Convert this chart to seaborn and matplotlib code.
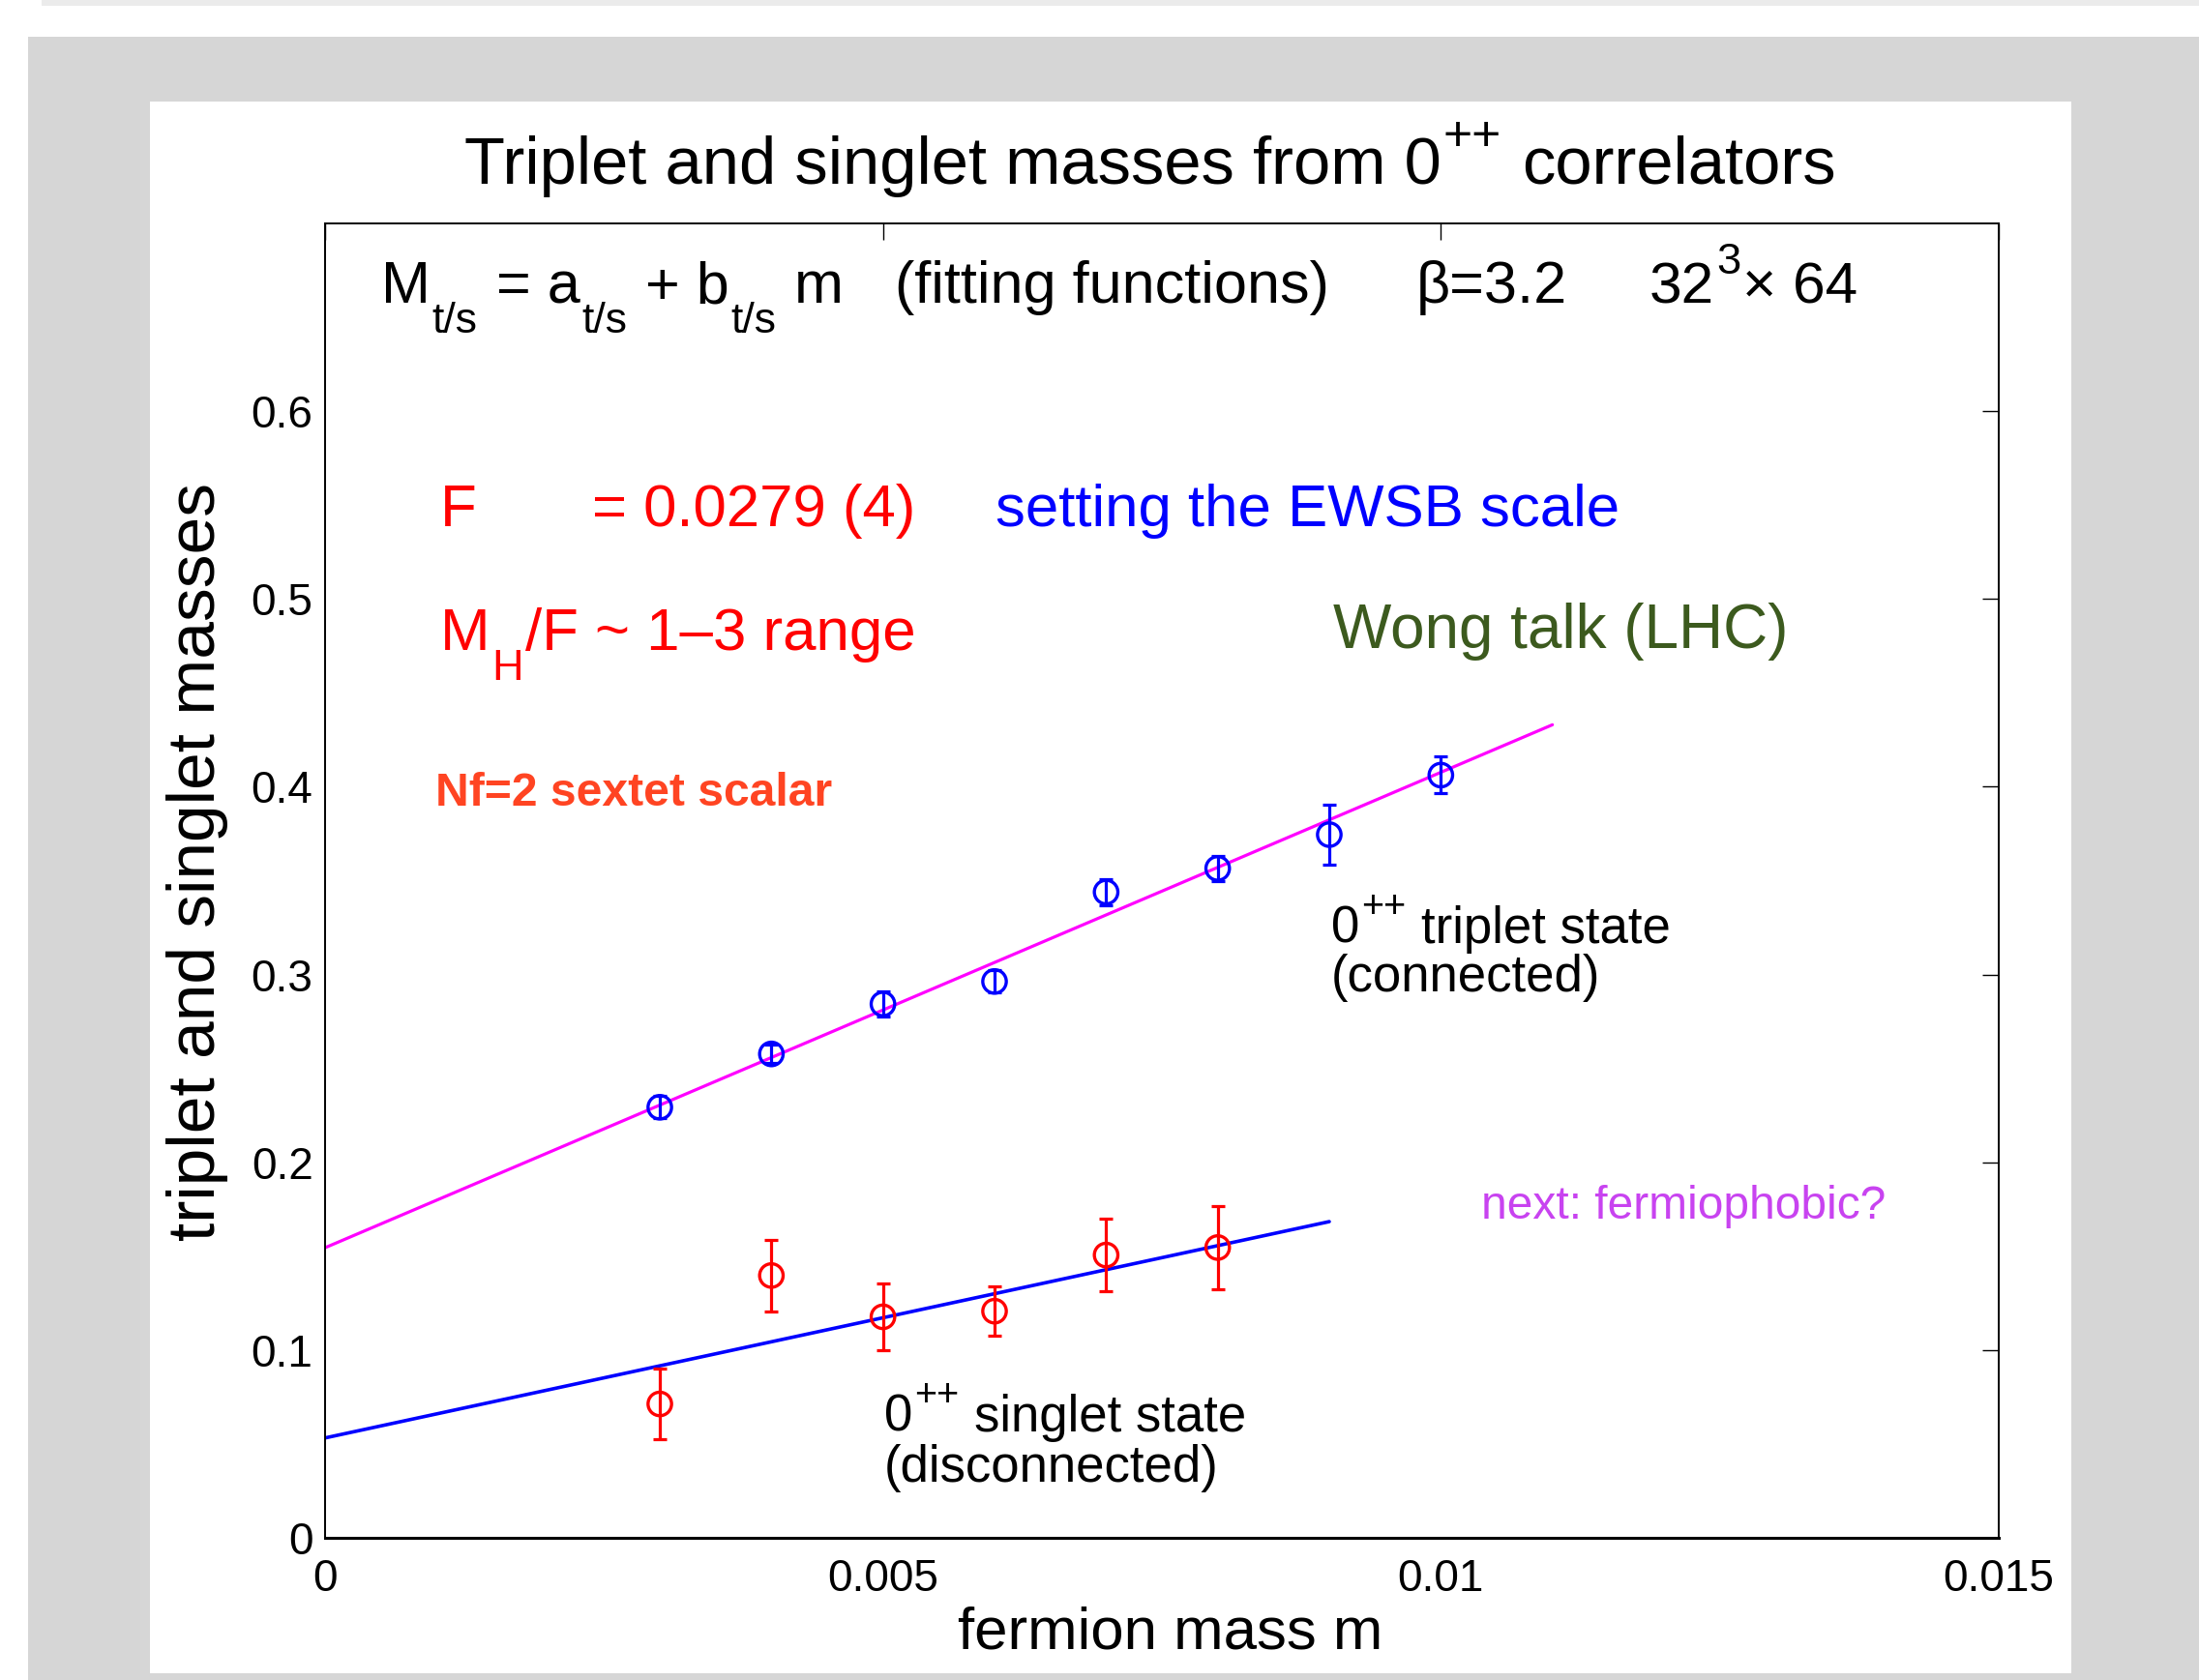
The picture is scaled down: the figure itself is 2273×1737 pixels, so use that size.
import numpy as np
import pandas as pd
import seaborn as sns
import matplotlib
matplotlib.use("Agg")
import matplotlib.pyplot as plt
from matplotlib.patches import Rectangle

# ---------------- data ----------------
m_triplet = [0.003, 0.004, 0.005, 0.006, 0.007, 0.008, 0.009, 0.010]
M_triplet = [0.2293, 0.2577, 0.2843, 0.2963, 0.3439, 0.3565, 0.3745, 0.4062]
err_triplet = [0.006, 0.005, 0.0066, 0.006, 0.007, 0.0066, 0.016, 0.0098]

m_singlet = [0.003, 0.004, 0.005, 0.006, 0.007, 0.008]
M_singlet = [0.0713, 0.1397, 0.1177, 0.1207, 0.1506, 0.1546]
err_singlet = [0.019, 0.019, 0.018, 0.013, 0.0192, 0.022]

fit_triplet_x = [0.0, 0.011]
fit_triplet_y = [0.1545, 0.433]
fit_singlet_x = [0.0, 0.009]
fit_singlet_y = [0.0532, 0.1684]

xticks = [0, 0.005, 0.01, 0.015]
xticklabels = ["0", "0.005", "0.01", "0.015"]
yticks = [0, 0.1, 0.2, 0.3, 0.4, 0.5, 0.6]
yticklabels = ["0", "0.1", "0.2", "0.3", "0.4", "0.5", "0.6"]

# ---------------- style ----------------
sns.set_theme(style="white")
plt.rcParams["font.family"] = ["Liberation Sans", "DejaVu Sans"]

W, H = 2273, 1737
DPI = 100
fig = plt.figure(figsize=(W / DPI, H / DPI), dpi=DPI)
fig.patch.set_facecolor("white")
renderer = fig.canvas.get_renderer()

def frect(x0, y0, x1, y1, color):
    r = Rectangle((x0 / W, 1 - y1 / H), (x1 - x0) / W, (y1 - y0) / H,
                  transform=fig.transFigure, facecolor=color, edgecolor="none",
                  zorder=-10)
    fig.add_artist(r)

frect(43, 0, W, 6, "#ebebeb")
frect(29, 38, W, H, "#d6d6d6")
frect(155, 105, 2141, 1730, "white")

def ftext(x, y, s, **kw):
    kw.setdefault("va", "baseline")
    kw.setdefault("ha", "left")
    return fig.text(x / W, 1 - y / H, s, **kw)

def seq_text(x, y, pieces, size, color, ha="left", weight="normal"):
    """Place text pieces (normal / sub / sup / spaces) in a row, MATLAB style."""
    em = size * DPI / 72.0
    placed = []
    cur = 0.0
    for s, kind in pieces:
        if kind == "sp":
            cur += s * 0.278 * em
            continue
        if kind == "n":
            fs, dy = size, 0.0
        elif kind == "sub":
            fs, dy = size * 0.73, 0.5 * em
        else:
            fs, dy = size * 0.75, -0.5 * em
        t = ftext(0, y + dy, s, fontsize=fs, color=color, fontweight=weight)
        w = t.get_window_extent(renderer).width
        placed.append((t, cur))
        cur += w + 0.03 * em
    x0 = x - cur / 2.0 if ha == "center" else x
    for t, off in placed:
        t.set_x((x0 + off) / W)

ax_l, ax_r, ax_t, ax_b = 336, 2066, 231, 1590
ax = fig.add_axes([ax_l / W, 1 - ax_b / H, (ax_r - ax_l) / W, (ax_b - ax_t) / H])
ax.set_facecolor("white")

# fit lines
sns.lineplot(x=fit_triplet_x, y=fit_triplet_y, ax=ax, color="#ff00ff", lw=2.3,
             zorder=2)
sns.lineplot(x=fit_singlet_x, y=fit_singlet_y, ax=ax, color="#0000ff", lw=2.6,
             zorder=2)

# error bars
ax.errorbar(m_triplet, M_triplet, yerr=err_triplet, fmt="none", ecolor="#0000ff",
            elinewidth=2.3, capsize=5, capthick=2.3, zorder=3)
ax.errorbar(m_singlet, M_singlet, yerr=err_singlet, fmt="none", ecolor="#ff0000",
            elinewidth=2.3, capsize=5, capthick=2.3, zorder=3)

# markers
df_t = pd.DataFrame({"m": m_triplet, "M": M_triplet})
df_s = pd.DataFrame({"m": m_singlet, "M": M_singlet})
sns.scatterplot(data=df_t, x="m", y="M", ax=ax, marker="o", s=17.5 ** 2,
                facecolors="none", edgecolor="#0000ff", linewidth=2.4, zorder=4)
sns.scatterplot(data=df_s, x="m", y="M", ax=ax, marker="o", s=17.5 ** 2,
                facecolors="none", edgecolor="#ff0000", linewidth=2.4, zorder=4)

ax.set_xlim(0, 0.015)
ax.set_ylim(0, 0.7)
ax.set_xticks(xticks)
ax.set_xticklabels(xticklabels)
ax.set_yticks(yticks)
ax.set_yticklabels(yticklabels)
ax.tick_params(direction="in", length=12, width=1.0, top=True, right=True,
               labelsize=33, colors="black")
ax.tick_params(axis="x", pad=15)
ax.tick_params(axis="y", pad=9)
for side in ["left", "right", "top"]:
    ax.spines[side].set_color("black")
    ax.spines[side].set_linewidth(1.4)
ax.spines["bottom"].set_color("black")
ax.spines["bottom"].set_linewidth(2.2)
ax.grid(False)

ax.set_xlabel("fermion mass m", fontsize=44.5, color="black")
ax.set_ylabel("triplet and singlet masses", fontsize=50, color="black")
ax.xaxis.set_label_coords(0.505, -0.052)
ax.yaxis.set_label_coords(-0.058, 0.514)

# ---------------- texts ----------------
seq_text(1190, 190, [("Triplet and singlet masses from 0", "n"), ("++", "sup"),
                     (1, "sp"), ("correlators", "n")],
         size=49.5, color="black", ha="center")

seq_text(394, 313, [("M", "n"), ("t/s", "sub"), (1, "sp"), ("= a", "n"),
                    ("t/s", "sub"), (1, "sp"), ("+ b", "n"), ("t/s", "sub"),
                    (1, "sp"), ("m", "n")], size=44, color="black")
ftext(925, 313, "(fitting functions)", fontsize=44, color="black")
ftext(1464, 313, "β=3.2", fontsize=44, color="black")
seq_text(1705, 313, [("32", "n"), ("3", "sup"), ("× 64", "n")],
         size=43.5, color="black")

ftext(455, 544, "F", fontsize=44.5, color="#ff0000")
ftext(612, 544, "= 0.0279 (4)", fontsize=44.5, color="#ff0000")
ftext(1029, 544, "setting the EWSB scale", fontsize=44.5, color="#0000ff")
seq_text(455, 672, [("M", "n"), ("H", "sub"), ("/F ~ 1–3 range", "n")],
         size=44.5, color="#ff0000")
ftext(1378, 670, "Wong talk (LHC)", fontsize=46, color="#3c5a1e")
ftext(450, 833, "Nf=2 sextet scalar", fontsize=34.6, fontweight="bold",
      color="#ff4422")

seq_text(1376, 975, [("0", "n"), ("++", "sup"), (1, "sp"), ("triplet state", "n")],
         size=38, color="black")
ftext(1376, 1025, "(connected)", fontsize=38, color="black")
seq_text(914, 1480, [("0", "n"), ("++", "sup"), (1, "sp"), ("singlet state", "n")],
         size=38, color="black")
ftext(914, 1532, "(disconnected)", fontsize=38, color="black")
ftext(1531, 1260, "next: fermiophobic?", fontsize=34.5, color="#c843f0")

fig.savefig("out.png", dpi=DPI)
